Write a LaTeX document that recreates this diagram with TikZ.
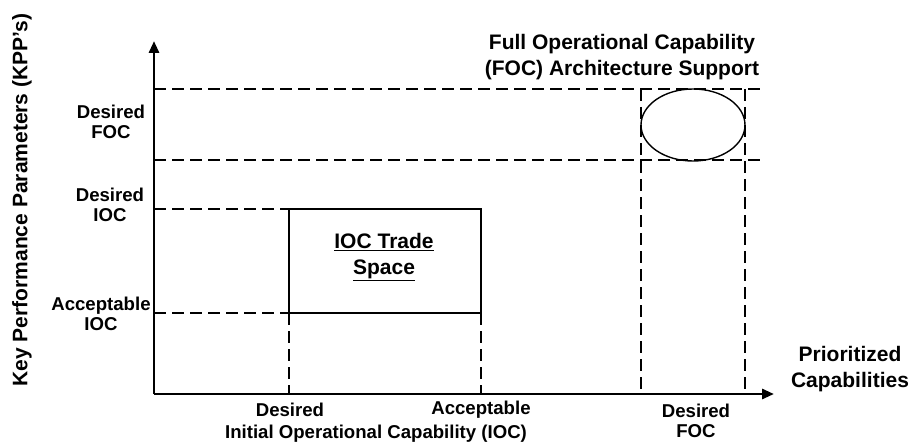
\documentclass[tikz,border=0pt]{standalone}
\usepackage{fontspec}
\setmainfont{Liberation Sans}
\usetikzlibrary{arrows.meta,shapes.geometric}
\begin{document}
\begin{tikzpicture}[x=1pt,y=-1pt,
  axis/.style={line width=2.8pt,-{Triangle[length=12pt,width=10pt]}},
  guide/.style={line width=1.5pt,dash pattern=on 12pt off 6pt},
  region/.style={line width=1.4pt},
  big/.style={font=\fontsize{21}{26}\selectfont\bfseries,align=center,inner sep=0pt},
  small/.style={font=\fontsize{18.6}{20.5}\selectfont\bfseries,align=center,inner sep=0pt}]
\useasboundingbox (0,0) rectangle (914,444);

% key points of the chart
\coordinate (O) at (154,394);
\coordinate (ytop) at (154,41);
\coordinate (xend) at (774,394);
\coordinate (fa) at (154,89);   \coordinate (fa2) at (765,89);
\coordinate (fb) at (154,160);  \coordinate (fb2) at (765,160);
\coordinate (di) at (154,209);  \coordinate (ai) at (154,313);
\coordinate (r1) at (289,209);  \coordinate (r2) at (481,313);
\coordinate (r1b) at (289,394); \coordinate (r2b) at (481,394);
\coordinate (r1m) at (289,313); \coordinate (r2m) at (481,313);
\coordinate (v1t) at (641,89);  \coordinate (v1b) at (641,394);
\coordinate (v2t) at (745,89);  \coordinate (v2b) at (745,394);

% dashed guide lines
\draw[guide] (fa) -- (fa2);
\draw[guide] (fb) -- (fb2);
\draw[guide] (di) -- (r1);
\draw[guide] (ai) -- (r1m);
\draw[guide] (r1m) -- (r1b);
\draw[guide] (r2m) -- (r2b);
\draw[guide] (v1t) -- (v1b);
\draw[guide] (v2t) -- (v2b);

% IOC trade space and FOC target
\draw[region] (r1) rectangle (r2);
\node[draw,region,ellipse,minimum width=104pt,minimum height=72pt,inner sep=0pt] (foc) at (693,125) {};

% axes
\draw[axis] (O) -- (ytop);
\draw[axis] (O) -- (xend);

% labels
\node[big,rotate=90] (ylab) at (22,200) {Key Performance Parameters (KPP’s)};
\node[big] (foctitle) at (622,57) {Full Operational Capability\\(FOC) Architecture Support};
\node[big] (trade) at (384,257) {\underline{IOC Trade}\\\underline{Space}};
\node[big] (xlab) at (850,369) {Prioritized\\Capabilities};

\node[small] (dfoc) at (111,122) {Desired\\FOC};
\node[small] (dioc) at (110,205) {Desired\\IOC};
\node[small] (aioc) at (101,314) {Acceptable\\IOC};

\node[small] (xd) at (290,410) {Desired};
\node[small] (xa) at (481,410) {Acceptable};
\node[small] (xioc) at (376,434) {Initial Operational Capability (IOC)};
\node[small] (xf) at (696,421) {Desired\\FOC};
\end{tikzpicture}
\end{document}
